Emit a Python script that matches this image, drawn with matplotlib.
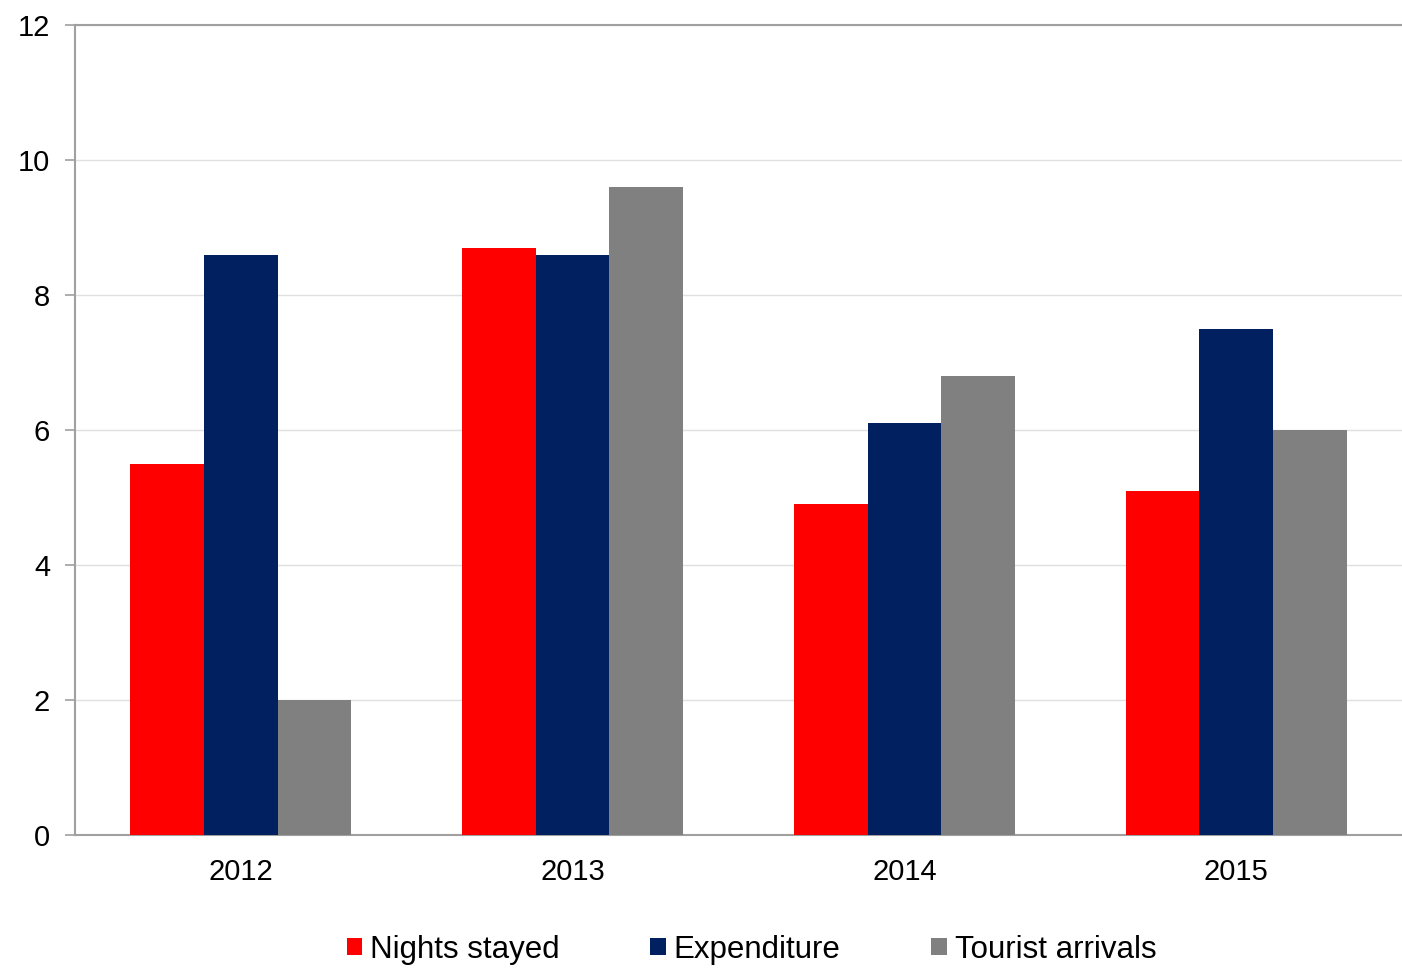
import numpy as np
import matplotlib
matplotlib.use("Agg")
import matplotlib.pyplot as plt

plt.rcParams['font.family'] = ['Liberation Sans', 'DejaVu Sans']

# --- Data ---
years = ["2012", "2013", "2014", "2015"]
nights_stayed = [5.5, 8.7, 4.9, 5.1]
expenditure = [8.6, 8.6, 6.1, 7.5]
tourist_arrivals = [2.0, 9.6, 6.8, 6.0]

series = [
    ("Nights stayed", nights_stayed, "#ff0000"),
    ("Expenditure", expenditure, "#002060"),
    ("Tourist arrivals", tourist_arrivals, "#808080"),
]

fig = plt.figure(figsize=(14.02, 9.73), dpi=100)
ax = fig.add_axes([0.0535, 0.142, 0.9465, 0.832])

x = np.arange(len(years))
width = 0.222
for i, (name, vals, color) in enumerate(series):
    ax.bar(x + (i - 1) * width, vals, width, color=color, label=name, zorder=3)

ax.set_xlim(-0.5, len(years) - 0.5)
ax.set_ylim(0, 12)
ax.set_yticks(np.arange(0, 13, 2))
ax.set_xticks(x)
ax.set_xticklabels(years)

# gridlines and spines
ax.grid(axis="y", color="#e0e0e0", linewidth=1, zorder=0)
for side in ["left", "bottom", "top"]:
    ax.spines[side].set_color("#a0a0a0")
    ax.spines[side].set_linewidth(1.5)
ax.spines["right"].set_visible(False)

ax.tick_params(axis="y", length=7, width=1.2, color="#a0a0a0", labelsize=21, pad=11)
ax.tick_params(axis="x", length=0, labelsize=21, pad=17)

ax.legend(loc="center", bbox_to_anchor=(0.536, 0.024), bbox_transform=fig.transFigure,
          ncol=3, frameon=False, fontsize=22.5, handlelength=0.5, handleheight=0.5,
          handletextpad=0.25, columnspacing=2.9, borderaxespad=0)

fig.savefig("out.png", dpi=100)
